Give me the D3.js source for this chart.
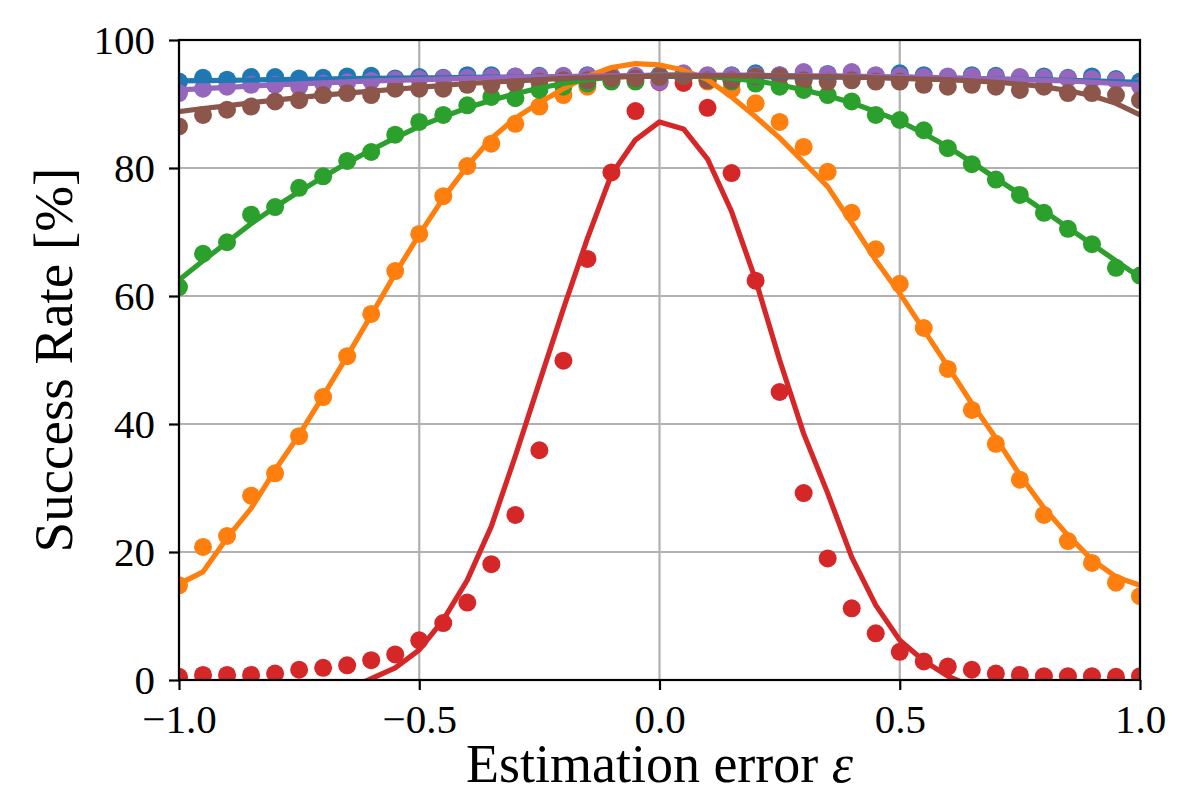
<!DOCTYPE html>
<html>
<head>
<meta charset="utf-8">
<script src="https://cdn.jsdelivr.net/npm/d3@7.9.0/dist/d3.min.js"></script>
<style>
  body { margin: 0; background: #fff; }
  svg text { font-family: "Liberation Serif", "DejaVu Serif", serif; fill: #000; }
</style>
</head>
<body>
<svg id="chart" width="1200" height="800"></svg>
<script>
// estimation error grid (x values)
const epsilon = [-1.0, -0.95, -0.9, -0.85, -0.8, -0.75, -0.7, -0.65, -0.6, -0.55, -0.5,
  -0.45, -0.4, -0.35, -0.3, -0.25, -0.2, -0.15, -0.1, -0.05, 0.0,
  0.05, 0.1, 0.15, 0.2, 0.25, 0.3, 0.35, 0.4, 0.45, 0.5,
  0.55, 0.6, 0.65, 0.7, 0.75, 0.8, 0.85, 0.9, 0.95, 1.0];

const xTicks = [-1, -0.5, 0, 0.5, 1];
const yTicks = [0, 20, 40, 60, 80, 100];

// measured success rates (dots) and fitted curves (lines), per series
const blueDots = [93.5, 94.1, 93.8, 94.2, 94.2, 94.0, 94.1, 94.3, 94.4, 94.0, 94.2,
  94.1, 94.5, 94.5, 94.3, 94.4, 94.3, 94.5, 94.4, 94.3, 94.5,
  94.6, 94.4, 94.5, 94.8, 94.5, 94.6, 94.7, 94.5, 94.4, 94.8,
  94.5, 94.2, 94.5, 94.4, 94.0, 94.3, 94.1, 94.3, 93.9, 93.5];
const blueFit = [93.6, 93.65, 93.7, 93.75, 93.8, 93.85, 93.9, 93.95, 94.0, 94.05, 94.1,
  94.1, 94.15, 94.2, 94.2, 94.25, 94.25, 94.3, 94.3, 94.3, 94.3,
  94.3, 94.3, 94.3, 94.3, 94.25, 94.25, 94.2, 94.2, 94.15, 94.1,
  94.05, 94.0, 93.95, 93.9, 93.85, 93.8, 93.7, 93.6, 93.5, 93.4];

const orangeDots = [14.8, 20.8, 22.5, 28.8, 32.3, 38.1, 44.2, 50.6, 57.2, 63.9, 69.7,
  75.6, 80.3, 83.8, 86.9, 89.6, 91.4, 92.7, 93.6, 94.0, 94.2,
  94.0, 93.5, 92.3, 90.1, 87.2, 83.3, 79.4, 73.0, 67.3, 61.9,
  55.0, 48.6, 42.2, 36.9, 31.3, 25.8, 21.7, 18.3, 15.2, 13.1];
const orangeFit = [15.0, 16.9, 22.2, 26.8, 32.8, 38.3, 44.4, 50.6, 57.0, 63.5, 69.6,
  75.3, 80.3, 84.6, 87.8, 90.2, 92.4, 94.3, 95.7, 96.3, 96.1,
  95.3, 93.8, 91.1, 88.0, 84.7, 80.9, 77.1, 71.4, 65.6, 60.4,
  54.7, 49.0, 43.2, 37.8, 32.0, 26.9, 22.6, 18.8, 16.1, 14.8];

const greenDots = [61.4, 66.6, 68.4, 72.7, 73.9, 76.9, 78.7, 81.1, 82.5, 85.2, 87.2,
  88.3, 89.8, 91.1, 90.9, 92.2, 92.7, 93.2, 93.5, 93.5, 94.0,
  94.0, 93.8, 93.5, 93.2, 92.7, 92.2, 91.4, 90.4, 88.3, 87.5,
  85.9, 83.1, 80.6, 78.2, 75.8, 73.0, 70.5, 68.1, 64.4, 63.2];
const greenFit = [62.5, 65.5, 68.4, 71.3, 73.9, 76.3, 78.6, 80.8, 82.8, 84.7, 86.5,
  88.0, 89.4, 90.6, 91.6, 92.5, 93.2, 93.8, 94.2, 94.4, 94.5,
  94.5, 94.3, 94.0, 93.6, 93.0, 92.2, 91.3, 90.2, 88.8, 87.3,
  85.4, 83.3, 80.9, 78.4, 75.9, 73.3, 70.7, 68.1, 65.5, 62.9];

const redDots = [0.5, 0.8, 0.8, 0.8, 1.0, 1.6, 1.9, 2.3, 3.1, 4.0, 6.2,
  8.9, 12.1, 18.1, 25.8, 35.9, 49.9, 65.8, 79.3, 88.9, 93.4,
  93.3, 89.4, 79.2, 62.4, 45.0, 29.2, 19.0, 11.2, 7.3, 4.4,
  2.9, 2.1, 1.6, 1.0, 0.8, 0.6, 0.6, 0.6, 0.5, 0.6];
const redFit = [-9.0, -7.0, -5.5, -4.0, -3.0, -2.2, -1.8, -1.5, 0.2, 1.9, 4.7,
  9.4, 15.6, 24.0, 35.0, 46.5, 58.0, 69.0, 79.0, 84.4, 87.2,
  86.1, 81.4, 73.2, 62.5, 50.0, 38.5, 29.2, 19.2, 11.7, 6.2,
  3.0, 0.6, -1.0, -2.0, -3.0, -4.0, -5.0, -6.0, -7.0, -9.0];

const purpleDots = [91.7, 92.4, 92.7, 93.0, 93.0, 92.7, 93.2, 93.4, 93.6, 93.8, 93.9,
  94.0, 94.1, 94.2, 94.3, 94.3, 94.4, 94.4, 94.3, 94.4, 93.5,
  94.8, 94.5, 94.4, 94.5, 94.5, 95.0, 94.6, 95.0, 94.5, 94.4,
  94.2, 94.3, 94.3, 94.2, 94.2, 94.1, 94.0, 93.9, 93.7, 92.8];
const purpleFit = [92.2, 92.4, 92.6, 92.8, 93.0, 93.15, 93.3, 93.45, 93.6, 93.7, 93.8,
  93.9, 94.0, 94.1, 94.2, 94.25, 94.3, 94.35, 94.4, 94.45, 94.5,
  94.5, 94.5, 94.5, 94.5, 94.45, 94.4, 94.4, 94.35, 94.3, 94.25,
  94.2, 94.1, 94.0, 93.9, 93.8, 93.7, 93.6, 93.4, 93.2, 93.0];

const brownDots = [86.5, 88.3, 89.1, 89.6, 90.4, 90.6, 91.4, 91.7, 91.4, 92.4, 92.4,
  92.4, 93.0, 93.0, 93.2, 93.5, 93.7, 93.7, 94.0, 94.0, 94.2,
  94.3, 93.7, 93.7, 94.3, 94.3, 93.7, 93.5, 93.7, 93.5, 93.5,
  93.0, 92.7, 93.0, 92.7, 92.2, 92.7, 91.7, 91.7, 91.4, 90.6];
const brownFit = [88.8, 89.3, 89.7, 90.2, 90.6, 91.0, 91.4, 91.7, 92.0, 92.3, 92.6,
  92.9, 93.2, 93.4, 93.6, 93.8, 94.0, 94.1, 94.2, 94.3, 94.4,
  94.4, 94.4, 94.4, 94.4, 94.4, 94.3, 94.3, 94.2, 94.1, 94.0,
  93.9, 93.8, 93.6, 93.4, 93.1, 92.7, 92.1, 91.3, 90.1, 88.3];

const series = [
  { color: '#1f77b4', dots: blueDots, fit: blueFit },
  { color: '#ff7f0e', dots: orangeDots, fit: orangeFit },
  { color: '#2ca02c', dots: greenDots, fit: greenFit },
  { color: '#d62728', dots: redDots, fit: redFit },
  { color: '#9467bd', dots: purpleDots, fit: purpleFit },
  { color: '#8c564b', dots: brownDots, fit: brownFit }
];

const margin = { top: 40, right: 60, bottom: 120, left: 179 };
const width = 1200, height = 800;
const innerWidth = width - margin.left - margin.right;
const innerHeight = height - margin.top - margin.bottom;

const svg = d3.select('#chart');

const x = d3.scaleLinear().domain([-1, 1]).range([0, innerWidth]);
const y = d3.scaleLinear().domain([0, 100]).range([innerHeight, 0]);

const g = svg.append('g')
  .attr('transform', `translate(${margin.left},${margin.top})`);

svg.append('defs').append('clipPath')
  .attr('id', 'plot-clip')
  .append('rect')
  .attr('width', innerWidth)
  .attr('height', innerHeight);

// grid
g.append('g').selectAll('line')
  .data(xTicks)
  .join('line')
  .attr('x1', d => x(d)).attr('x2', d => x(d))
  .attr('y1', 0).attr('y2', innerHeight)
  .attr('stroke', '#b0b0b0')
  .attr('stroke-width', 2.2);

g.append('g').selectAll('line')
  .data(yTicks)
  .join('line')
  .attr('x1', 0).attr('x2', innerWidth)
  .attr('y1', d => y(d)).attr('y2', d => y(d))
  .attr('stroke', '#b0b0b0')
  .attr('stroke-width', 2.2);

const plot = g.append('g').attr('clip-path', 'url(#plot-clip)');

// scatter first (matplotlib draws collections below lines)
series.forEach(s => {
  plot.append('g').selectAll('circle')
    .data(s.dots)
    .join('circle')
    .attr('cx', (d, i) => x(epsilon[i]))
    .attr('cy', d => y(d))
    .attr('r', 9)
    .attr('fill', s.color);
});

const line = d3.line()
  .x((d, i) => x(epsilon[i]))
  .y(d => y(d));

series.forEach(s => {
  plot.append('path')
    .datum(s.fit)
    .attr('d', line)
    .attr('fill', 'none')
    .attr('stroke', s.color)
    .attr('stroke-width', 5.2)
    .attr('stroke-linejoin', 'round')
    .attr('stroke-linecap', 'square');
});

// axes
const xAxis = d3.axisBottom(x)
  .tickValues(xTicks)
  .tickSize(10)
  .tickFormat(d3.format('.1f'));

const yAxis = d3.axisLeft(y)
  .tickValues(yTicks)
  .tickSize(10)
  .tickFormat(d3.format('d'));

const gx = g.append('g')
  .attr('transform', `translate(0,${innerHeight})`)
  .call(xAxis);
const gy = g.append('g').call(yAxis);

[gx, gy].forEach(ax => {
  ax.select('.domain').remove();
  ax.attr('font-size', null).attr('font-family', null);
  ax.selectAll('line').attr('stroke', '#000').attr('stroke-width', 2.2);
  ax.selectAll('text')
    .style('font-size', '41px')
    .attr('fill', '#000');
});

// explicit baselines for the tick labels
gx.selectAll('text').attr('y', 53).attr('dy', null);
gy.selectAll('text').attr('x', -24).attr('dy', null).attr('y', 13);

// spines
g.append('rect')
  .attr('width', innerWidth)
  .attr('height', innerHeight)
  .attr('fill', 'none')
  .attr('stroke', '#000')
  .attr('stroke-width', 2.2);

// axis labels
const xLabel = g.append('text')
  .attr('x', innerWidth / 2)
  .attr('y', innerHeight + 102)
  .attr('text-anchor', 'middle')
  .style('font-size', '54px');
xLabel.append('tspan').text('Estimation error ');
xLabel.append('tspan').style('font-style', 'italic').text('ε');

g.append('text')
  .attr('transform', `translate(${72 - margin.left},${innerHeight / 2}) rotate(-90)`)
  .attr('text-anchor', 'middle')
  .style('font-size', '55px')
  .text('Success Rate [%]');
</script>
</body>
</html>
